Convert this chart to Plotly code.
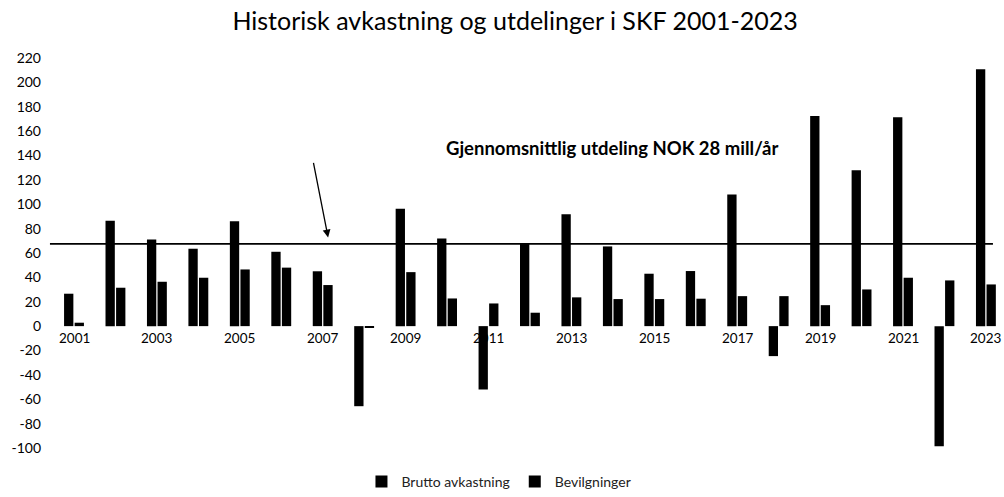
import plotly.graph_objects as go

years = list(range(2001, 2024))
brutto = [26.6, 86.5, 71, 63.5, 86, 61, 45, -65.7, 96.4, 72, -52, 67.6,
          91.7, 65.4, 43, 45.2, 107.9, -24.6, 172.4, 127.8, 171.3, -98.5, 210.8]
bevilgninger = [2.8, 31.5, 36.4, 39.7, 46.5, 48, 33.7, -1.3, 44.3, 22.7, 18.6, 11,
                23.6, 22.2, 22.2, 22.5, 24.6, 24.6, 17.2, 30.1, 39.7, 37.5, 34.2]
avg_line = 67.5
y_ticks = list(range(-100, 221, 20))
y_ticktext = [str(v) for v in y_ticks]
x_ticks = years[::2]

title = "Historisk avkastning og utdelinger i SKF 2001-2023"
note = "Gjennomsnittlig utdeling NOK 28 mill/år"

FONT = "Lato"
W, H = 1004, 497
PX_PER_YEAR = 41.45

fig = go.Figure()
fig.add_trace(go.Bar(x=years, y=brutto, name="Brutto avkastning",
                     marker=dict(color="black", line=dict(width=0))))
fig.add_trace(go.Bar(x=years, y=bevilgninger, name="Bevilgninger",
                     marker=dict(color="black", line=dict(width=0))))

fig.add_shape(type="line", xref="x", yref="y",
              x0=years[0] - 0.58, x1=years[-1] + 0.17, y0=avg_line, y1=avg_line,
              line=dict(color="black", width=1.6))

ymin, ymax = -100, 220
fig.update_layout(
    width=W, height=H,
    margin=dict(l=42, r=4, t=58, b=49, autoexpand=False),
    paper_bgcolor="white", plot_bgcolor="white",
    font=dict(family=FONT, color="black", size=13),
    title=dict(text=title, x=0.513, xanchor="center", y=1 - 21 / H, yanchor="middle",
               font=dict(family=FONT, size=25, color="black")),
    barmode="group", bargap=0.49, bargroupgap=0.12,
    showlegend=True,
    legend=dict(orientation="h", x=0.477, xanchor="center",
                y=-0.087, yanchor="middle", font=dict(size=14, color="#222"),
                itemwidth=30, traceorder="normal"),
    xaxis=dict(range=[years[0] - 32 / PX_PER_YEAR, years[0] + 926 / PX_PER_YEAR],
               showticklabels=False, automargin=False,
               showgrid=False, zeroline=False, showline=False, ticks=""),
    yaxis=dict(range=[ymin, ymax], tickvals=y_ticks, ticktext=y_ticktext,
               showgrid=False, zeroline=False, showline=False, ticks="",
               automargin=False, tickfont=dict(size=14)),
)

for yr in x_ticks:
    fig.add_annotation(x=yr, y=0, xref="x", yref="y", text=str(yr), showarrow=False,
                       yanchor="top", yshift=-2, font=dict(family=FONT, size=13.5, color="black"))

fig.add_annotation(x=2013.98, y=145.9, xref="x", yref="y", text="<b>" + note + "</b>",
                   showarrow=False, font=dict(family=FONT, size=18.5, color="black"))
fig.add_annotation(x=2007.13, y=72.8, ax=2006.77, ay=135.2, xref="x", yref="y",
                   axref="x", ayref="y", text="", showarrow=True, arrowhead=2,
                   arrowsize=1.2, arrowwidth=1.3, arrowcolor="black")

fig.write_html("out.html", config={"displayModeBar": False},
               post_script="document.body.style.margin='0';document.body.style.overflow='hidden';")
